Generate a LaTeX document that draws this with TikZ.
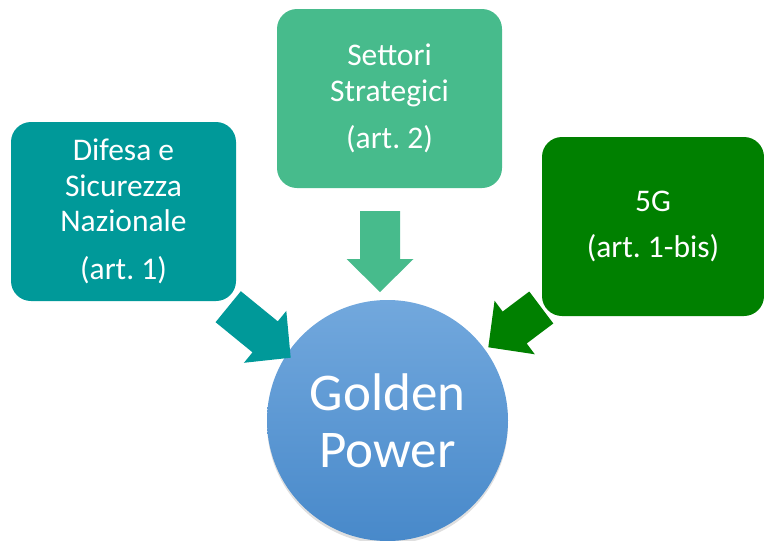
\documentclass[tikz,border=0pt]{standalone}
\usepackage{fontspec}
\setmainfont{Carlito}
\frenchspacing
\usetikzlibrary{calc,shadows}
\definecolor{tealbox}{RGB}{0,153,153}
\definecolor{mintbox}{RGB}{71,187,140}
\definecolor{greenbox}{RGB}{0,128,0}
\definecolor{circtop}{RGB}{114,168,221}
\definecolor{circbot}{RGB}{72,137,202}
\newcommand{\blockarrow}[3]{%
  \coordinate (#1h) at ($(#2)!33pt!(#1)$);
  \fill[#3] ($(#1)!20pt!90:(#2)$) -- ($(#1h)!20pt!90:(#2)$) -- ($(#1h)!33.5pt!90:(#2)$) -- (#2)
    -- ($(#1h)!33.5pt!-90:(#2)$) -- ($(#1h)!20pt!-90:(#2)$) -- ($(#1)!20pt!-90:(#2)$) -- cycle;
}
\tikzset{
  box/.style={rectangle, rounded corners=20pt, inner sep=0pt, minimum height=179pt,
    text=white, align=center, font=\fontsize{31.5}{35.5}\selectfont},
}
\begin{document}
\begin{tikzpicture}[x=1pt,y=-1pt]
\useasboundingbox (0,0) rectangle (764,541);
\node[box, fill=tealbox, minimum width=225pt] (b1) at (123.5,211.5)
  {Difesa e\\Sicurezza\\Nazionale\\[12pt](art. 1)};
\node[box, fill=mintbox, minimum width=225pt] (b2) at (389.5,98.5)
  {Settori\\Strategici\\[12pt](art. 2)};
\node[box, fill=greenbox, minimum width=222pt] (b3) at (653,226.5)
  {5G\\[10pt](art. 1-bis)};
\node[circle, minimum size=241pt, inner sep=0pt, top color=circtop, bottom color=circbot,
  drop shadow={opacity=0.25, shadow xshift=0pt, shadow yshift=-3pt},
  text=white, align=center, font=\fontsize{53}{57}\selectfont] (gp) at (387.5,420.5)
  {Golden\\Power};
\coordinate (a1s) at (228.2,306.7);
\coordinate (a1e) at (290.7,357.7);
\coordinate (a2s) at (380,211);
\coordinate (a2e) at (380,292);
\coordinate (a3s) at (541.3,307.5);
\coordinate (a3e) at (488.3,347.3);
\blockarrow{a1s}{a1e}{tealbox}
\blockarrow{a2s}{a2e}{mintbox}
\blockarrow{a3s}{a3e}{greenbox}
\end{tikzpicture}
\end{document}
